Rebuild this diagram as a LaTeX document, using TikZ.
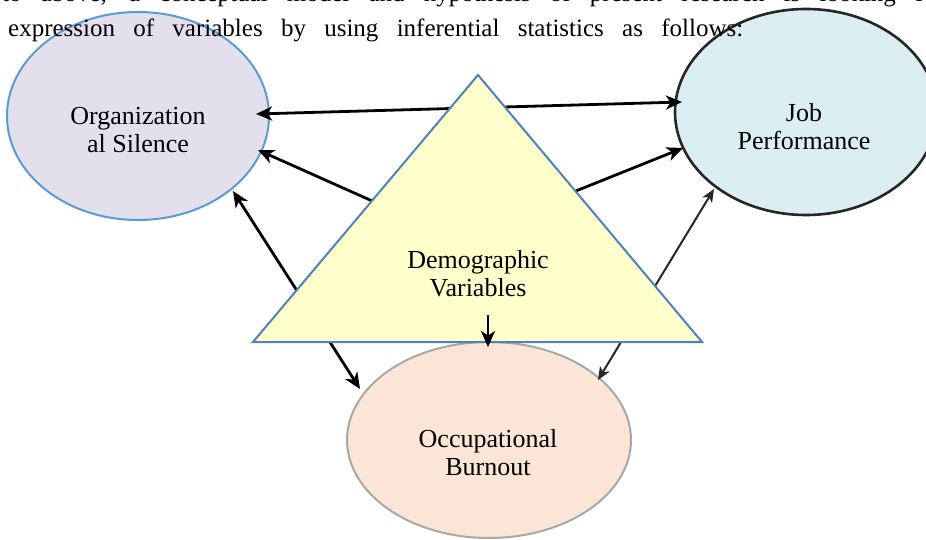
\documentclass[tikz,border=0pt]{standalone}
\usepackage{fontspec}
\setmainfont{Liberation Serif}
\usetikzlibrary{shapes.geometric,arrows.meta,calc}
\pgfdeclarelayer{back}
\pgfdeclarelayer{mid}
\pgfsetlayers{back,mid,main}
\definecolor{orgfill}{HTML}{E4DFEC}
\definecolor{orgline}{HTML}{5B9BD5}
\definecolor{jobfill}{HTML}{DAEEF3}
\definecolor{jobline}{HTML}{262626}
\definecolor{burnfill}{HTML}{FBE5D6}
\definecolor{burnline}{HTML}{A8A8A8}
\definecolor{trifill}{HTML}{FFFFCC}
\definecolor{triline}{HTML}{4F81BD}
\begin{document}
\begin{tikzpicture}[x=1pt,y=-1pt,
  mytip/.tip={Stealth[length=16pt,width=14pt,inset=4.5pt]},
  smalltip/.tip={Stealth[length=13pt,width=11pt,inset=3.5pt]},
  lbl/.style={font=\fontsize{26}{28}\selectfont, align=center, inner sep=0pt},
  oval/.style={ellipse, inner sep=0pt},
  arr/.style={line width=2.8pt, -mytip},
  darr/.style={line width=2.8pt, mytip-mytip},
  thinarr/.style={line width=2pt, draw=black!85, smalltip-smalltip},
  bodytext/.style={anchor=base west, inner sep=0pt, font=\fontsize{25}{30}\selectfont}
]
\useasboundingbox (0,0) rectangle (926,540);
\clip (0,0) rectangle (926,540);

% ellipses
\begin{pgfonlayer}{back}
\fill[white] (0,0) rectangle (926,540);
\node[oval, draw=orgline, fill=orgfill, line width=2pt, minimum width=262pt, minimum height=208pt] (org) at (138,116) {};
\node[oval, draw=jobline, fill=jobfill, line width=2.6pt, minimum width=262pt, minimum height=206pt] (job) at (806,112) {};
\node[oval, draw=burnline, fill=burnfill, line width=2pt, minimum width=284pt, minimum height=196pt] (burn) at (489,440) {};
\end{pgfonlayer}

% triangle
\coordinate (tA) at (478,75);
\coordinate (tR) at (702,342);
\coordinate (tL) at (253,342);
\filldraw[fill=trifill, draw=triline, line width=2pt] (tA) -- (tR) -- (tL) -- cycle;

% labels
\node[lbl] (orgt) at (138,130) {Organization\\al Silence};
\node[lbl] (jobt) at (804,127) {Job\\Performance};
\node[lbl] (burnt) at (488,453) {Occupational\\Burnout};
\node[lbl] (demo) at (478,274) {Demographic\\Variables};

% connectors
\begin{pgfonlayer}{mid}
\draw[darr] ($(org)+(118,-2)$) -- ($(job)+(-124,-10)$);
\draw[arr] ($(demo)+(-52,-49)$) -- ($(org)+(120,34)$);
\draw[arr] ($(demo)+(38,-59)$) -- ($(job)+(-123,36)$);
\draw[darr] ($(org)+(95,75)$) -- ($(burn)+(-129,-51)$);
\draw[thinarr] ($(job)+(-92,77)$) -- ($(burn)+(109,-60)$);
\end{pgfonlayer}
\draw[arr] ($(demo)+(10,41)$) -- ($(burn)+(-1,-93)$);

% surrounding text
\node[bodytext] (line1) at (2,2) {\makebox[942pt][s]{to above, a conceptual model and hypothesis of present research is looking for}};
\node[bodytext] (line2) at (8,37) {\makebox[735pt][s]{expression of variables by using inferential statistics as follows:}};
\end{tikzpicture}
\end{document}
